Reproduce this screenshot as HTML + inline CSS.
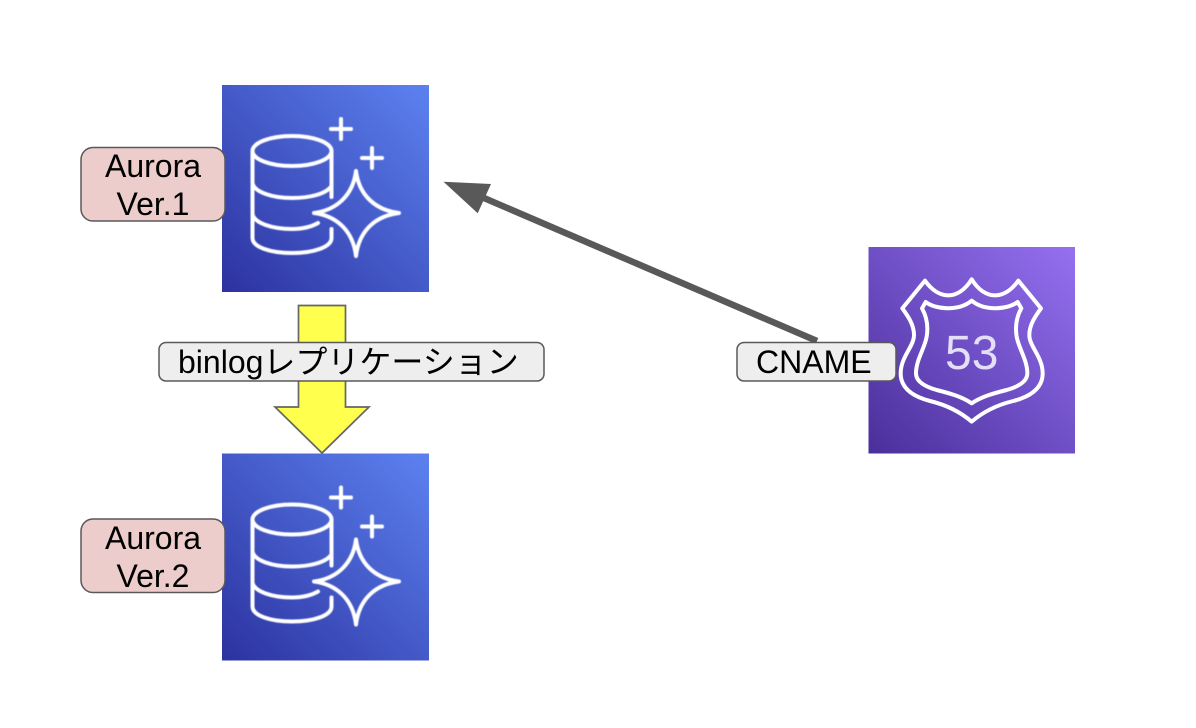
<!DOCTYPE html>
<html><head><meta charset="utf-8"><style>
html,body{margin:0;padding:0;background:#fff}
svg{display:block}
text{font-family:"Liberation Sans","Noto Sans CJK JP",sans-serif;font-size:32px;fill:#000}
</style></head><body>
<svg width="1196" height="728" viewBox="0 0 1196 728" xmlns="http://www.w3.org/2000/svg">
<defs>
<linearGradient id="a" x1="0" y1="1" x2="1" y2="0"><stop offset="0" stop-color="#2c32a0"/><stop offset="1" stop-color="#5c82f0"/></linearGradient>
<linearGradient id="r" x1="0" y1="1" x2="1" y2="0"><stop offset="0" stop-color="#4a2f9b"/><stop offset="1" stop-color="#9570f0"/></linearGradient>
<filter id="b" x="-5%" y="-5%" width="110%" height="110%"><feGaussianBlur stdDeviation="0.6"/></filter>
<filter id="t" x="-5%" y="-20%" width="110%" height="140%"><feGaussianBlur stdDeviation="0.3"/></filter>
<g id="aur">
<rect x="222" y="85" width="207" height="207" fill="url(#a)"/>
<g fill="none" stroke="#fff" stroke-width="4" filter="url(#b)" stroke-linecap="round" stroke-linejoin="round">
<ellipse cx="292" cy="151" rx="39.5" ry="15"/>
<path d="M252.500 151V238C252.500 247 270 253 292 253C314 253 331.500 247 331.500 238V229"/>
<path d="M331.500 151V197"/>
<path d="M252.500 183C254 192 272 198 292 198C310 198 326 194 331.500 186"/>
<path d="M252.500 214C254 223 272 229 292 229C302 229 311 227 318 223"/>
<path d="M356 171C359 195 375 210 399 213C375 216 359 231 356 256C353 231 337 216 314 213C337 210 353 195 356 171Z"/>
<path d="M341 119V139M331 129H351M372 148V168M362 158H382"/>
</g>
</g>
</defs>

<use href="#aur"/>
<use href="#aur" y="368.500"/>

<rect x="868.500" y="247" width="206.500" height="206.500" fill="url(#r)"/>
<g transform="translate(860 240) scale(.33333)" fill="none" stroke="#fff" stroke-width="12" stroke-linejoin="round" filter="url(#b)">
<path d="M195 122C215 150 240 166 265 166C290 166 315 150 335 118C355 150 380 166 405 166C430 166 455 150 475 122L543 205C525 230 508 255 508 285C508 320 548 350 548 400C548 445 510 470 460 483C410 495 370 515 335 545C300 515 260 495 210 483C160 470 122 445 122 400C122 350 162 320 162 285C162 255 145 230 127 205Z"/>
<path d="M197 186C225 208 295 215 335 182C375 215 445 208 473 186L484 205C470 230 465 260 470 290C476 325 502 360 502 400C502 425 475 440 440 450C400 460 365 470 335 490C305 470 270 460 230 450C195 440 168 425 168 400C168 360 194 325 200 290C205 260 200 230 186 205Z"/>
</g>
<text x="945" y="369" style="font-size:48px;fill:#e4def6" filter="url(#t)">53</text>

<path d="M298.500 305.500H345.500V407H369L322 453L275 407H298.500Z" fill="#ffff4d" stroke="#666" stroke-width="1.700"/>

<path d="M817 341L484 198" fill="none" stroke="#595959" stroke-width="6.500"/>
<path d="M443.500 181.700L491 184L477.700 213.300Z" fill="#595959"/>

<rect x="81" y="147.500" width="144" height="73.500" rx="12" fill="#eccdcc" stroke="#595959" stroke-width="1.500"/>
<text x="153" y="177" text-anchor="middle" filter="url(#t)">Aurora</text>
<text x="153" y="215" text-anchor="middle" filter="url(#t)">Ver.1</text>

<rect x="81" y="519" width="144" height="73.500" rx="12" fill="#eccdcc" stroke="#595959" stroke-width="1.500"/>
<text x="153" y="549" text-anchor="middle" filter="url(#t)">Aurora</text>
<text x="153" y="587" text-anchor="middle" filter="url(#t)">Ver.2</text>

<rect x="159" y="342.500" width="385" height="38.500" rx="7" fill="#eeeeee" stroke="#595959" stroke-width="1.500"/>
<text x="178" y="373" filter="url(#t)">binlogレプリケーション</text>

<rect x="737" y="342.500" width="159" height="38.500" rx="7" fill="#eeeeee" stroke="#595959" stroke-width="1.500"/>
<text x="756" y="373" filter="url(#t)">CNAME</text>
</svg>
</body></html>
